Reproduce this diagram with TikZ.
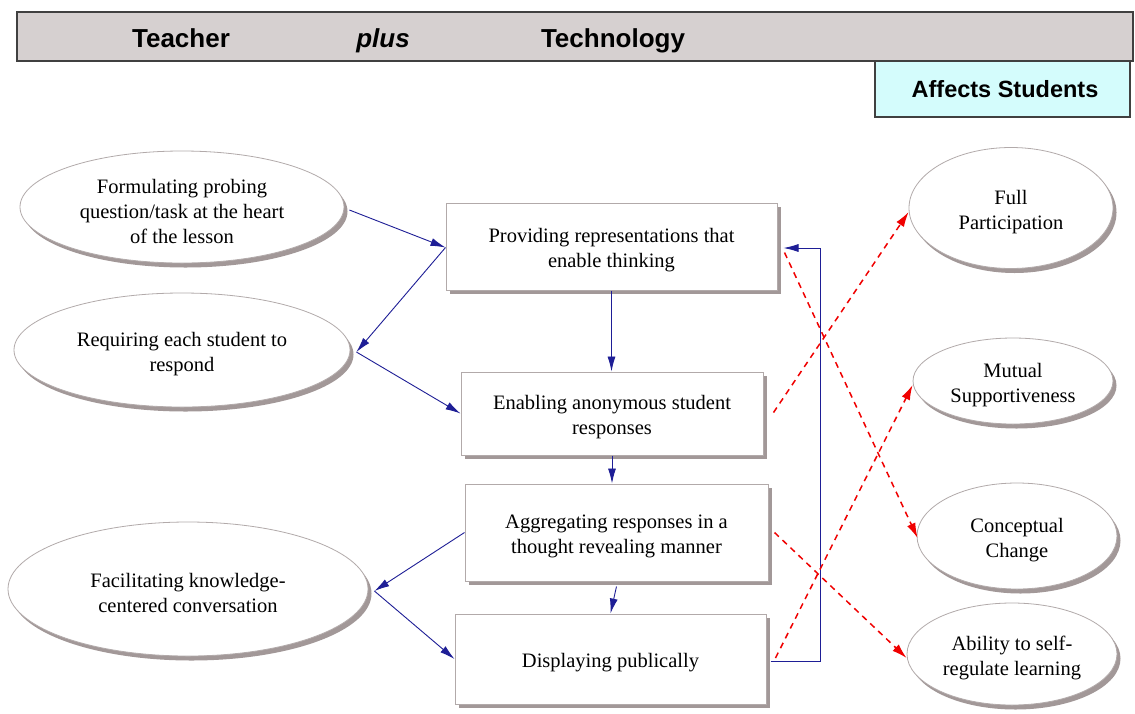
\documentclass[tikz,border=0pt]{standalone}
\usepackage{fontspec}
\setmainfont{Liberation Serif}
\newfontfamily\hdrfont{Liberation Sans}
\usetikzlibrary{shapes.geometric,arrows.meta,shadows}
\definecolor{hdrfill}{RGB}{214,208,208}
\definecolor{cyanfill}{RGB}{212,252,252}
\definecolor{shgray}{RGB}{162,152,152}
\definecolor{bordergray}{RGB}{178,170,170}
\definecolor{navyblue}{RGB}{30,30,150}
\definecolor{dashred}{RGB}{240,0,0}
\begin{document}
\begin{tikzpicture}[x=1pt,y=-1pt,
  oval/.style={ellipse, draw=bordergray, line width=0.8pt, fill=white, inner sep=0pt,
    drop shadow={shadow xshift=3.5pt, shadow yshift=-4.5pt, fill=shgray, opacity=1}},
  stepbox/.style={rectangle, draw=bordergray, line width=1pt, fill=white, inner sep=0pt,
    drop shadow={shadow xshift=4pt, shadow yshift=-4pt, fill=shgray, opacity=1}},
  txt/.style={font=\fontsize{20.5}{25}\selectfont, align=center, inner sep=0pt, yshift=-4pt},
  bluearrow/.style={draw=navyblue, line width=0.9pt, -{Latex[length=15pt,width=8pt]}},
  redarrow/.style={draw=dashred, line width=1.5pt, dash pattern=on 6pt off 5pt, -{Latex[length=15pt,width=9pt]}},
  hdrtext/.style={font=\hdrfont\bfseries\fontsize{26}{30}\selectfont, inner sep=0pt, anchor=base}
]
\fill[white] (0,0) rectangle (1135,713);
\useasboundingbox (0,0) rectangle (1135,713);

% header
\node[draw=black!75, line width=1.2pt, fill=hdrfill, minimum width=1116pt, minimum height=49pt, inner sep=0pt] (hdr) at (575,36.5) {};
\node[hdrtext] (teacher) at (181,47) {Teacher};
\node[hdrtext] (plus) at (383,47) {\itshape plus};
\node[hdrtext] (tech) at (613,47) {Technology};
\node[draw=black!75, line width=1.2pt, fill=cyanfill, minimum width=255pt, minimum height=56pt, inner sep=0pt] (affects) at (1002.5,89) {};
\node[font=\hdrfont\bfseries\fontsize{23.5}{28}\selectfont, inner sep=0pt, anchor=base] (affectstxt) at (1005,97) {Affects Students};

% left ellipses
\node[oval, minimum width=324pt, minimum height=112pt,
  label={[txt]center:Formulating probing\\question/task at the heart\\of the lesson}] (E1) at (182,207) {};
\node[oval, minimum width=336pt, minimum height=114pt,
  label={[txt]center:Requiring each student to\\respond}] (E2) at (182,350) {};
\node[oval, minimum width=360pt, minimum height=134pt,
  label={[txt]center:Facilitating knowledge-\\centered conversation}] (E3) at (188,589) {};

% boxes
\node[stepbox, minimum width=331pt, minimum height=87pt,
  label={[txt]center:Providing representations that\\enable thinking}] (B1) at (611.5,246.5) {};
\node[stepbox, minimum width=302pt, minimum height=83pt,
  label={[txt]center:Enabling anonymous student\\responses}] (B2) at (612,413.5) {};
\node[stepbox, minimum width=303pt, minimum height=97pt,
  label={[txt]center:Aggregating responses in a\\thought revealing manner}] (B3) at (616.5,532.5) {};
\node[stepbox, minimum width=311pt, minimum height=90pt,
  label={[txt]center:Displaying publically}] (B4) at (610.5,659) {};

% right ellipses
\node[oval, minimum width=204pt, minimum height=121pt,
  label={[txt]center:Full\\Participation}] (FP) at (1011,208) {};
\node[oval, minimum width=200pt, minimum height=86pt,
  label={[txt]center:Mutual\\Supportiveness}] (MS) at (1013,381) {};
\node[oval, minimum width=200pt, minimum height=106pt,
  label={[txt]center:Conceptual\\Change}] (CC) at (1017,536) {};
\node[oval, minimum width=210pt, minimum height=102pt,
  label={[txt]center:Ability to self-\\regulate learning}] (AB) at (1012,654) {};

% blue connectors
\draw[bluearrow] ([shift={(5,3)}]E1.east) -- ([shift={(0,1)}]B1.west);
\draw[bluearrow] ([shift={(0,1)}]B1.west) -- ([shift={(6,2)}]E2.east);
\draw[bluearrow] ([shift={(6,2)}]E2.east) -- (B2.west);
\draw[bluearrow] (B1.south) -- (B1.south |- B2.north);
\draw[bluearrow] (B2.south) -- (B2.south |- B3.north);
\draw[bluearrow] ([shift={(0,5)}]B3.south) -- (B4.north);
\draw[bluearrow] (B3.west) -- ([shift={(6,2)}]E3.east);
\draw[bluearrow] ([shift={(6,2)}]E3.east) -- (B4.west);
\draw[bluearrow] ([shift={(4,2)}]B4.east) -- ([shift={(54,2)}]B4.east) |- ([shift={(6,1.5)}]B1.east);

% red connectors
\draw[redarrow] ([shift={(7,6)}]B1.east) -- ([shift={(1,2)}]CC.west);
\draw[redarrow] ([shift={(10,-1)}]B2.east) -- ([shift={(0,4)}]FP.west);
\draw[redarrow] ([shift={(6,0)}]B3.east) -- ([shift={(0,4)}]AB.west);
\draw[redarrow] ([shift={(9,-1)}]B4.east) -- ([shift={(0,4)}]MS.west);
\end{tikzpicture}
\end{document}
